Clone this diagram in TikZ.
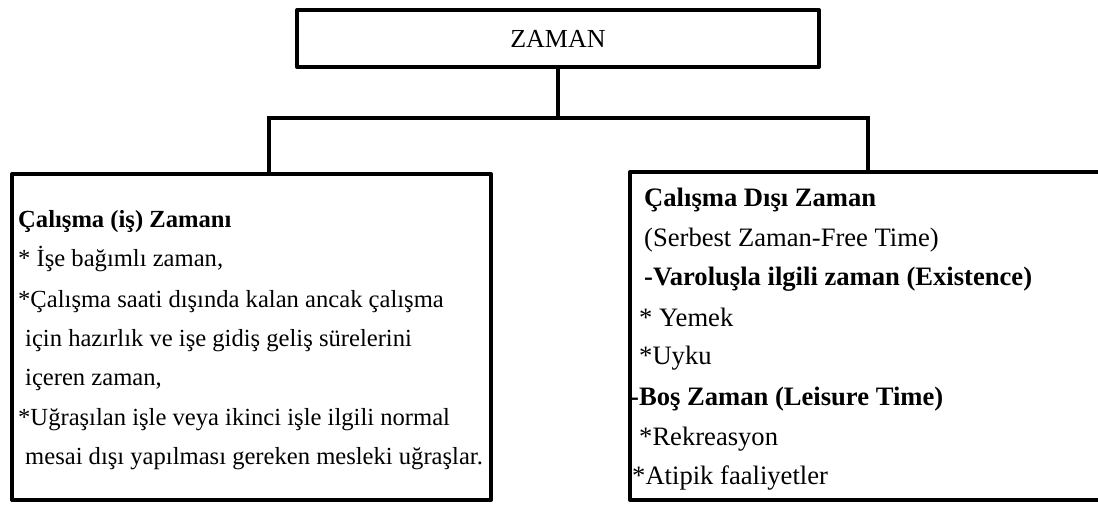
\documentclass[tikz,border=0pt]{standalone}
\usepackage{fontspec}
\setmainfont{Liberation Serif}
\usetikzlibrary{positioning}

\tikzset{
  kutu/.style={draw, line width=4pt, line join=round, inner sep=0pt},
  bag/.style={line width=4pt},
  satir/.style={anchor=base west, inner sep=0pt},
  solyazi/.style={satir, font=\fontsize{24.6}{30}\selectfont},
  sagyazi/.style={satir, font=\fontsize{26.6}{30}\selectfont},
}

\begin{document}
\begin{tikzpicture}[x=1pt,y=-1pt]
\useasboundingbox (0,0) rectangle (1098,504);
\clip (0,0) rectangle (1098,504);

% ust kutu
\node[kutu, minimum width=522pt, minimum height=57pt,
      font=\fontsize{26}{30}\selectfont] (zaman) at (558,38.5) {ZAMAN};

% alt kutular
\node[kutu, minimum width=479pt, minimum height=326pt] (calisma) at (251.5,337) {};
\node[kutu, minimum width=490pt, minimum height=328pt] (disi) at (875,336) {};

% baglantilar
\coordinate (catal) at (558,118);
\coordinate (sol) at (269,118);
\coordinate (sag) at (868,118);
\draw[bag] (zaman.south) -- (catal);
\draw[bag] (sol |- calisma.north) -- (sol) -- (sag) -- (sag |- disi.north);

% sol kutu yazilari
\foreach \y/\x/\t [count=\i] in {
  227/18/{\textbf{Çalışma (iş) Zamanı}},
  266/18/{* İşe bağımlı zaman,},
  307/18/{*Çalışma saati dışında kalan ancak çalışma},
  346/25/{için hazırlık ve işe gidiş geliş sürelerini},
  385/25/{içeren zaman,},
  425/18/{*Uğraşılan işle veya ikinci işle ilgili normal},
  464/25/{mesai dışı yapılması gereken mesleki uğraşlar.}
} \node[solyazi] (sol\i) at (\x,\y) {\t};

% sag kutu yazilari
\foreach \y/\x/\t [count=\i] in {
  206/644/{\textbf{Çalışma Dışı Zaman}},
  246/644/{(Serbest Zaman-Free Time)},
  285/644/{\textbf{-Varoluşla ilgili zaman (Existence)}},
  326/639/{* Yemek},
  364/639/{*Uyku},
  405/630/{\textbf{-Boş Zaman (Leisure Time)}},
  445/639/{*Rekreasyon},
  484/632/{*Atipik faaliyetler}
} \node[sagyazi] (sag\i) at (\x,\y) {\t};

\end{tikzpicture}
\end{document}
